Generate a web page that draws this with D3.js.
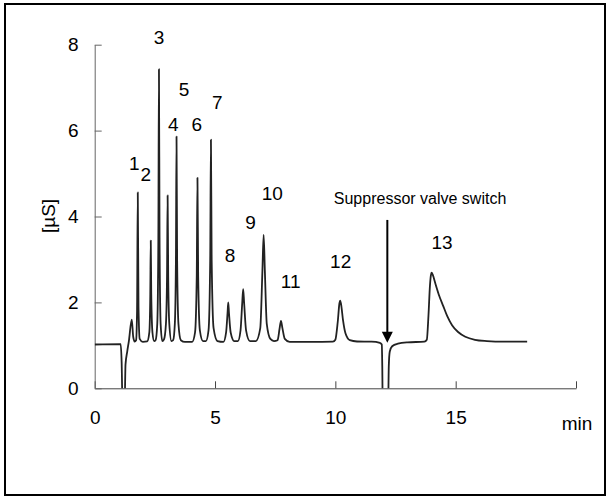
<!DOCTYPE html>
<html>
<head>
<meta charset="utf-8">
<script src="https://cdn.jsdelivr.net/npm/d3@7"></script>
<style>
  body { margin: 0; background: #fff; }
  svg { display: block; font-family: Arial, "Liberation Sans", sans-serif; }
</style>
</head>
<body>
<script>
// trace: [time (min), conductivity (µS)]
const trace = [
  [0, 1.02], [1.08, 1.03], [1.12, 0.6], [1.16, -0.5], [1.24, -0.5], [1.28, 0.55],
  [1.35, 0.85], [1.42, 1.1], [1.54, 1.6], [1.6, 1.2], [1.66, 1.09],
  [1.72, 1.12], [1.76, 1.8], [1.79, 4.56], [1.82, 1.9], [1.87, 1.15], [2.0, 1.08],
  [2.18, 1.09], [2.27, 1.3], [2.31, 2.2], [2.33, 3.44], [2.35, 2.2], [2.40, 1.3], [2.47, 1.1],
  [2.53, 1.12], [2.60, 1.5], [2.645, 3.5], [2.67, 7.43], [2.695, 3.5], [2.74, 1.5], [2.81, 1.1],
  [2.88, 1.14], [2.96, 1.5], [3.005, 2.6], [3.03, 4.49], [3.055, 2.6], [3.10, 1.5], [3.19, 1.1],
  [3.26, 1.12], [3.33, 1.5], [3.375, 3], [3.40, 5.86], [3.425, 3], [3.48, 1.5], [3.58, 1.12], [3.75, 1.08],
  [4.05, 1.08], [4.17, 1.3], [4.24, 2.6], [4.27, 4.90], [4.30, 2.6], [4.37, 1.35], [4.5, 1.1],
  [4.62, 1.1], [4.73, 1.35], [4.80, 3], [4.83, 5.79], [4.86, 3], [4.94, 1.4], [5.1, 1.1],
  [5.35, 1.08], [5.46, 1.3], [5.52, 1.75], [5.55, 2.0], [5.58, 1.75], [5.65, 1.3], [5.8, 1.1],
  [5.95, 1.1], [6.06, 1.35], [6.13, 1.98], [6.17, 2.31], [6.21, 1.98], [6.29, 1.35], [6.45, 1.1],
  [6.7, 1.1], [6.88, 1.4], [6.97, 2.75], [7.02, 3.57], [7.07, 2.75], [7.15, 1.5], [7.3, 1.15], [7.45, 1.1],
  [7.6, 1.12], [7.68, 1.38], [7.74, 1.57], [7.8, 1.4], [7.9, 1.15], [8.1, 1.08],
  [9.0, 1.08], [9.9, 1.085],
  [10.0, 1.13], [10.1, 1.55], [10.17, 1.98], [10.2, 2.04], [10.24, 1.95], [10.32, 1.58], [10.42, 1.28], [10.6, 1.12], [10.9, 1.09],
  [11.5, 1.085], [11.85, 1.06], [11.93, 1.02], [11.95, 0.5], [11.97, -0.5], [12.19, -0.5],
  [12.22, 0.5], [12.26, 0.85], [12.36, 0.98], [12.6, 1.04], [13.0, 1.07], [13.7, 1.085],
  [13.8, 1.13], [13.87, 1.7], [13.93, 2.38], [13.97, 2.63], [14.0, 2.69], [14.05, 2.64],
  [14.15, 2.45], [14.3, 2.18], [14.48, 1.92], [14.65, 1.68], [14.85, 1.47], [15.1, 1.31],
  [15.4, 1.2], [15.8, 1.13], [16.3, 1.1], [17.0, 1.085], [17.97, 1.085]
];

// peak numbers and where they sit
const peakLabels = ["1", "2", "3", "4", "5", "6", "7", "8", "9", "10", "11", "12", "13"];
const labelTime  = [1.65, 2.12, 2.67, 3.27, 3.71, 4.24, 5.09, 5.62, 6.48, 7.38, 8.14, 10.22, 14.43];
const labelValue = [5.24, 4.99, 8.18, 6.15, 6.97, 6.15, 6.66, 3.10, 3.86, 4.54, 2.50, 2.96, 3.39];

const xTicks = [0, 5, 10, 15, 20];
const yTicks = [0, 2, 4, 6, 8];

const note = { text: "Suppressor valve switch", t: 13.52, v: 4.41, arrowT: 12.16, arrowFrom: 3.92, arrowTo: 1.06 };

const width = 611, height = 497;
const margin = {top: 44.7, right: 35, bottom: 108.7, left: 94.7};

const svg = d3.select("body").append("svg")
    .attr("width", width)
    .attr("height", height);

svg.append("rect")
    .attr("x", 5).attr("y", 4)
    .attr("width", 600).attr("height", 491)
    .attr("fill", "none")
    .attr("stroke", "#000")
    .attr("stroke-width", 2);

const x = d3.scaleLinear()
    .domain([0, 20])
    .range([margin.left, width - margin.right]);

const y = d3.scaleLinear()
    .domain([0, 8])
    .range([height - margin.bottom, margin.top]);

svg.append("defs").append("clipPath")
    .attr("id", "plot")
  .append("rect")
    .attr("x", x(0)).attr("y", 0)
    .attr("width", x(20) - x(0)).attr("height", y(0));

const xAxis = g => g
    .attr("transform", `translate(0,${y(0)})`)
    .call(d3.axisBottom(x).tickValues(xTicks)
      .tickFormat(d => d === 20 ? "" : d)
      .tickSizeInner(-7).tickSizeOuter(0).tickPadding(22))
    .call(g => g.selectAll("text").style("font-size", "19px").attr("fill", "#000"))
    .call(g => g.selectAll("line, path").attr("stroke", "#444"));

const yAxis = g => g
    .attr("transform", `translate(${x(0)},0)`)
    .call(d3.axisLeft(y).tickValues(yTicks)
      .tickSizeInner(-7).tickSizeOuter(0).tickPadding(16))
    .call(g => g.selectAll("text").style("font-size", "19px").attr("fill", "#000"))
    .call(g => g.selectAll("line, path").attr("stroke", "#666"));

svg.append("g").call(xAxis);
svg.append("g").call(yAxis);

svg.append("text")
    .attr("x", x(20) + 1)
    .attr("y", y(0) + 35)
    .attr("dy", "0.35em")
    .attr("text-anchor", "middle")
    .style("font-size", "19px")
    .text("min");

svg.append("text")
    .attr("transform", `translate(48.7,${y(4) - 0.5}) rotate(-90)`)
    .attr("dy", "0.35em")
    .attr("text-anchor", "middle")
    .style("font-size", "19px")
    .text("[µS]");

const line = d3.line()
    .x(d => x(d[0]))
    .y(d => y(d[1]))
    .curve(d3.curveMonotoneX);

svg.append("path")
    .datum(trace)
    .attr("clip-path", "url(#plot)")
    .attr("fill", "none")
    .attr("stroke", "#222")
    .attr("stroke-width", 1.8)
    .attr("stroke-linejoin", "round")
    .attr("d", line);

svg.append("g")
    .style("font-size", "19px")
    .attr("text-anchor", "middle")
  .selectAll("text")
  .data(peakLabels)
  .enter().append("text")
    .attr("x", (d, i) => x(labelTime[i]))
    .attr("y", (d, i) => y(labelValue[i]))
    .attr("dy", "0.35em")
    .text(d => d);

svg.append("text")
    .attr("x", x(note.t))
    .attr("y", y(note.v))
    .attr("dy", "0.35em")
    .attr("text-anchor", "middle")
    .style("font-size", "16px")
    .text(note.text);

svg.append("line")
    .attr("x1", x(note.arrowT)).attr("x2", x(note.arrowT))
    .attr("y1", y(note.arrowFrom)).attr("y2", y(note.arrowTo) - 10)
    .attr("stroke", "#000")
    .attr("stroke-width", 2);

svg.append("path")
    .attr("d", `M${x(note.arrowT) - 5.5},${y(note.arrowTo) - 11}L${x(note.arrowT) + 5.5},${y(note.arrowTo) - 11}L${x(note.arrowT)},${y(note.arrowTo)}Z`)
    .attr("fill", "#000");
</script>
</body>
</html>
